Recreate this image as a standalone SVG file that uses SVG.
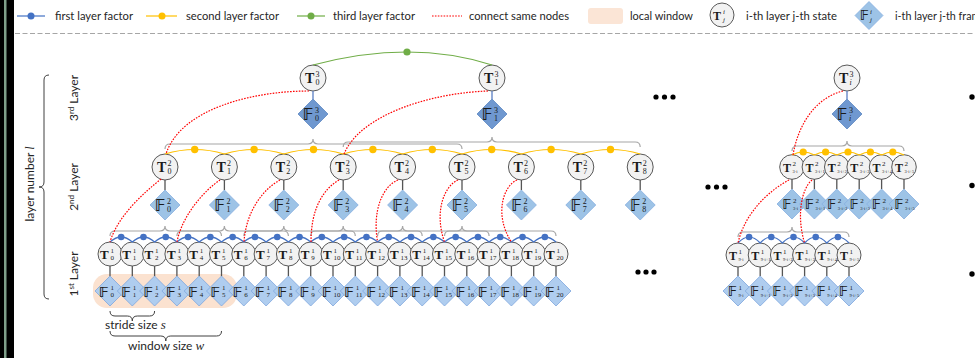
<svg xmlns="http://www.w3.org/2000/svg" xmlns:xlink="http://www.w3.org/1999/xlink" width="975" height="358" viewBox="0 0 975 358">
<style>
.c{fill:#f2f2f2;stroke:#595959;stroke-width:1}
.f1{fill:#afcdef;stroke:#7ea6dd;stroke-width:.8}
.f2{fill:#9dc3e6;stroke:#87afe0;stroke-width:.8}
.f3{fill:#6f98d0;stroke:#5d86c2;stroke-width:.8}
.m{font-family:"Liberation Serif",serif;font-weight:bold;fill:#1a1a1a}
.bb{font-family:"DejaVu Sans",sans-serif;font-weight:bold;font-size:1.12em}
.k{font-family:"Liberation Serif",serif;font-weight:normal}
.i{font-style:italic}
.b14{font-size:14px}.b13{font-size:13px}.b12{font-size:12px}
.s8{font-size:8px}.s7{font-size:7px}.s5{font-size:4.5px}
.lbl{font-family:Lato,"Liberation Sans",sans-serif;font-size:12px;fill:#262626}
.tie{fill:none;stroke:#555;stroke-width:1.3}
.tie3{fill:none;stroke:#5b7fc4;stroke-width:1.3}
.bl{fill:none;stroke:#4472c4;stroke-width:1.2}
.ye{fill:none;stroke:#ffc000;stroke-width:1.2}
.gr{fill:none;stroke:#70ad47;stroke-width:1.2}
.br{fill:none;stroke:#a6a6a6;stroke-width:1.2}
.dk{fill:none;stroke:#404040;stroke-width:1}
.rd{fill:none;stroke:#ff0000;stroke-width:1.2;stroke-dasharray:1.6 1.3}
.dot-b{fill:#4472c4}.dot-y{fill:#ffc000}.dot-g{fill:#70ad47}
</style>
<defs>
<path id="dm" d="M0,-15L15,0L0,15L-15,0Z"/>
</defs>
<rect width="975" height="358" fill="#fff"/>
<!-- left page edge -->
<rect x="0" y="0" width="14" height="358" fill="#000"/>
<rect x="4" y="0" width="2.5" height="358" fill="#7f9f8a"/>
<line x1="15" y1="33.5" x2="975" y2="33.5" stroke="#a6a6a6" stroke-width="1" stroke-dasharray="5 2.5"/>

<!-- legend -->
<g id="legend">
<line x1="17" y1="16" x2="45" y2="16" class="bl"/><circle cx="31" cy="16" r="3.5" class="dot-b"/>
<text x="55" y="20" class="lbl" textLength="78" lengthAdjust="spacingAndGlyphs">first layer factor</text>
<line x1="146" y1="16" x2="177" y2="16" class="ye"/><circle cx="162" cy="16" r="3.5" class="dot-y"/>
<text x="186" y="20" class="lbl" textLength="93" lengthAdjust="spacingAndGlyphs">second layer factor</text>
<line x1="297" y1="16" x2="325" y2="16" class="gr"/><circle cx="311" cy="16" r="3.5" class="dot-g"/>
<text x="333" y="20" class="lbl" textLength="82" lengthAdjust="spacingAndGlyphs">third layer factor</text>
<line x1="432" y1="16" x2="462" y2="16" class="rd"/>
<text x="469" y="20" class="lbl" textLength="100" lengthAdjust="spacingAndGlyphs">connect same nodes</text>
<rect x="588" y="8" width="35" height="16" rx="3" fill="#fbe5d6"/>
<text x="630" y="20" class="lbl" textLength="63" lengthAdjust="spacingAndGlyphs">local window</text>
<g transform="translate(722 15)"><circle class="c" r="12"/><text class="m b12"><tspan x="-9" y="4.5">T</tspan><tspan class="k i s7" x="1" y="-1.5">i</tspan><tspan class="k i s7" x="1" y="6.5">j</tspan></text></g>
<text x="746" y="20" class="lbl" textLength="91" lengthAdjust="spacingAndGlyphs">i-th layer j-th state</text>
<g transform="translate(869 15.5)"><path class="f2" d="M0,-14L14,0L0,14L-14,0Z"/><text class="m b12"><tspan class="bb" x="-9" y="4.5">𝔽</tspan><tspan class="k i s7" x="1" y="-1.5">i</tspan><tspan class="k i s7" x="1" y="6.5">j</tspan></text></g>
<text x="895" y="20" class="lbl" textLength="91" lengthAdjust="spacingAndGlyphs">i-th layer j-th frame</text>
</g>

<!-- axis labels -->
<g id="axis">
<path class="dk" d="M49,75Q44,75 44,80L44,182Q44,187 39,187Q44,187 44,192L44,294Q44,299 49,299"/>
<text class="lbl" text-anchor="middle" transform="translate(34 184) rotate(-90)">layer number <tspan font-family="Liberation Serif, serif" font-style="italic">l</tspan></text>
<text class="lbl" text-anchor="middle" transform="translate(78 98) rotate(-90)">3<tspan font-size="8" dy="-4">rd</tspan><tspan dy="4"> Layer</tspan></text>
<text class="lbl" text-anchor="middle" transform="translate(78 187) rotate(-90)">2<tspan font-size="8" dy="-4">nd</tspan><tspan dy="4"> Layer</tspan></text>
<text class="lbl" text-anchor="middle" transform="translate(78 274) rotate(-90)">1<tspan font-size="8" dy="-4">st</tspan><tspan dy="4"> Layer</tspan></text>
</g>

<!-- local window, stride and window size -->
<g id="window">
<rect x="93" y="274" width="144" height="34" rx="14" fill="#fbe2d0"/>
<path class="dk" d="M110,311Q110,316 115,316L127.3,316Q132.3,316 132.3,321Q132.3,316 137.3,316L149.6,316Q154.6,316 154.6,311"/>
<path class="dk" d="M110,331Q110,336 115,336L160.8,336Q165.8,336 165.8,341Q165.8,336 170.8,336L216.5,336Q221.5,336 221.5,331"/>
<text x="105" y="329" class="lbl">stride size <tspan font-family="Liberation Serif, serif" font-style="italic" font-size="13">s</tspan></text>
<text x="128" y="350" class="lbl">window size <tspan font-family="Liberation Serif, serif" font-style="italic" font-size="13">w</tspan></text>
</g>

<!-- ellipses -->
<g id="more" fill="#000">
<circle cx="656" cy="97" r="2.6"/><circle cx="664.5" cy="97" r="2.6"/><circle cx="673" cy="97" r="2.6"/>
<circle cx="708" cy="187" r="2.6"/><circle cx="716.5" cy="187" r="2.6"/><circle cx="725" cy="187" r="2.6"/>
<circle cx="638" cy="272" r="2.6"/><circle cx="646" cy="272" r="2.6"/><circle cx="654" cy="272" r="2.6"/>
<circle cx="972" cy="97" r="2.7"/><circle cx="972" cy="185.5" r="2.7"/><circle cx="972" cy="274" r="2.7"/>
</g>

<!-- layer 3 -->
<g id="t3-0" transform="translate(313 78)"><circle class="c" r="13"/><text class="m b14"><tspan x="-8" y="5">T</tspan><tspan class="k s8" x="2.5" y="-1">3</tspan><tspan class="k s8" x="2.5" y="7">0</tspan></text></g>
<g id="f3-0" transform="translate(313 114)"><use href="#dm" class="f3"/><text class="m b14"><tspan class="bb" x="-10" y="5.5">𝔽</tspan><tspan class="k s8" x="2" y="-1">3</tspan><tspan class="k s8" x="2" y="7">0</tspan></text></g>
<g id="t3-1" transform="translate(492 78)"><circle class="c" r="13"/><text class="m b14"><tspan x="-8" y="5">T</tspan><tspan class="k s8" x="2.5" y="-1">3</tspan><tspan class="k s8" x="2.5" y="7">1</tspan></text></g>
<g id="f3-1" transform="translate(492 114)"><use href="#dm" class="f3"/><text class="m b14"><tspan class="bb" x="-10" y="5.5">𝔽</tspan><tspan class="k s8" x="2" y="-1">3</tspan><tspan class="k s8" x="2" y="7">1</tspan></text></g>
<g id="t3-i" transform="translate(847 78)"><circle class="c" r="13"/><text class="m b14"><tspan x="-8" y="5">T</tspan><tspan class="k s8" x="2.5" y="-1">3</tspan><tspan class="k i s8" x="2.5" y="7">i</tspan></text></g>
<g id="f3-i" transform="translate(847 114)"><use href="#dm" class="f3"/><text class="m b14"><tspan class="bb" x="-10" y="5.5">𝔽</tspan><tspan class="k s8" x="2" y="-1">3</tspan><tspan class="k i s8" x="2" y="7">i</tspan></text></g>

<!-- layer 2 -->
<g id="t2-0" transform="translate(165 167)"><circle class="c" r="13"/><text class="m b14"><tspan x="-8" y="5">T</tspan><tspan class="k s8" x="2.5" y="-1">2</tspan><tspan class="k s8" x="2.5" y="7">0</tspan></text></g>
<g id="t2-1" transform="translate(224.4 167)"><circle class="c" r="13"/><text class="m b14"><tspan x="-8" y="5">T</tspan><tspan class="k s8" x="2.5" y="-1">2</tspan><tspan class="k s8" x="2.5" y="7">1</tspan></text></g>
<g id="t2-2" transform="translate(283.8 167)"><circle class="c" r="13"/><text class="m b14"><tspan x="-8" y="5">T</tspan><tspan class="k s8" x="2.5" y="-1">2</tspan><tspan class="k s8" x="2.5" y="7">2</tspan></text></g>
<g id="t2-3" transform="translate(343.2 167)"><circle class="c" r="13"/><text class="m b14"><tspan x="-8" y="5">T</tspan><tspan class="k s8" x="2.5" y="-1">2</tspan><tspan class="k s8" x="2.5" y="7">3</tspan></text></g>
<g id="t2-4" transform="translate(402.6 167)"><circle class="c" r="13"/><text class="m b14"><tspan x="-8" y="5">T</tspan><tspan class="k s8" x="2.5" y="-1">2</tspan><tspan class="k s8" x="2.5" y="7">4</tspan></text></g>
<g id="t2-5" transform="translate(462 167)"><circle class="c" r="13"/><text class="m b14"><tspan x="-8" y="5">T</tspan><tspan class="k s8" x="2.5" y="-1">2</tspan><tspan class="k s8" x="2.5" y="7">5</tspan></text></g>
<g id="t2-6" transform="translate(521.4 167)"><circle class="c" r="13"/><text class="m b14"><tspan x="-8" y="5">T</tspan><tspan class="k s8" x="2.5" y="-1">2</tspan><tspan class="k s8" x="2.5" y="7">6</tspan></text></g>
<g id="t2-7" transform="translate(580.8 167)"><circle class="c" r="13"/><text class="m b14"><tspan x="-8" y="5">T</tspan><tspan class="k s8" x="2.5" y="-1">2</tspan><tspan class="k s8" x="2.5" y="7">7</tspan></text></g>
<g id="t2-8" transform="translate(640.2 167)"><circle class="c" r="13"/><text class="m b14"><tspan x="-8" y="5">T</tspan><tspan class="k s8" x="2.5" y="-1">2</tspan><tspan class="k s8" x="2.5" y="7">8</tspan></text></g>
<g id="f2-0" transform="translate(165 205)"><use href="#dm" class="f2"/><text class="m b14"><tspan class="bb" x="-10" y="5.5">𝔽</tspan><tspan class="k s8" x="2" y="-1">2</tspan><tspan class="k s8" x="2" y="7">0</tspan></text></g>
<g id="f2-1" transform="translate(224.4 205)"><use href="#dm" class="f2"/><text class="m b14"><tspan class="bb" x="-10" y="5.5">𝔽</tspan><tspan class="k s8" x="2" y="-1">2</tspan><tspan class="k s8" x="2" y="7">1</tspan></text></g>
<g id="f2-2" transform="translate(283.8 205)"><use href="#dm" class="f2"/><text class="m b14"><tspan class="bb" x="-10" y="5.5">𝔽</tspan><tspan class="k s8" x="2" y="-1">2</tspan><tspan class="k s8" x="2" y="7">2</tspan></text></g>
<g id="f2-3" transform="translate(343.2 205)"><use href="#dm" class="f2"/><text class="m b14"><tspan class="bb" x="-10" y="5.5">𝔽</tspan><tspan class="k s8" x="2" y="-1">2</tspan><tspan class="k s8" x="2" y="7">3</tspan></text></g>
<g id="f2-4" transform="translate(402.6 205)"><use href="#dm" class="f2"/><text class="m b14"><tspan class="bb" x="-10" y="5.5">𝔽</tspan><tspan class="k s8" x="2" y="-1">2</tspan><tspan class="k s8" x="2" y="7">4</tspan></text></g>
<g id="f2-5" transform="translate(462 205)"><use href="#dm" class="f2"/><text class="m b14"><tspan class="bb" x="-10" y="5.5">𝔽</tspan><tspan class="k s8" x="2" y="-1">2</tspan><tspan class="k s8" x="2" y="7">5</tspan></text></g>
<g id="f2-6" transform="translate(521.4 205)"><use href="#dm" class="f2"/><text class="m b14"><tspan class="bb" x="-10" y="5.5">𝔽</tspan><tspan class="k s8" x="2" y="-1">2</tspan><tspan class="k s8" x="2" y="7">6</tspan></text></g>
<g id="f2-7" transform="translate(580.8 205)"><use href="#dm" class="f2"/><text class="m b14"><tspan class="bb" x="-10" y="5.5">𝔽</tspan><tspan class="k s8" x="2" y="-1">2</tspan><tspan class="k s8" x="2" y="7">7</tspan></text></g>
<g id="f2-8" transform="translate(640.2 205)"><use href="#dm" class="f2"/><text class="m b14"><tspan class="bb" x="-10" y="5.5">𝔽</tspan><tspan class="k s8" x="2" y="-1">2</tspan><tspan class="k s8" x="2" y="7">8</tspan></text></g>

<!-- layer 2, i-th block -->
<g id="t2-3i" transform="translate(792 167)"><circle class="c" r="12.3"/><text class="m b12"><tspan x="-9" y="4.5">T</tspan><tspan class="k s7" x="0.5" y="-1.5">2</tspan><tspan class="k s5" x="0.5" y="5.5">3·i</tspan></text></g>
<g id="t2-3i1" transform="translate(814.4 167)"><circle class="c" r="12.3"/><text class="m b12"><tspan x="-9" y="4.5">T</tspan><tspan class="k s7" x="0.5" y="-1.5">2</tspan><tspan class="k s5" x="0.5" y="5.5">3·i+1</tspan></text></g>
<g id="t2-3i2" transform="translate(836.8 167)"><circle class="c" r="12.3"/><text class="m b12"><tspan x="-9" y="4.5">T</tspan><tspan class="k s7" x="0.5" y="-1.5">2</tspan><tspan class="k s5" x="0.5" y="5.5">3·i+2</tspan></text></g>
<g id="t2-3i3" transform="translate(859.2 167)"><circle class="c" r="12.3"/><text class="m b12"><tspan x="-9" y="4.5">T</tspan><tspan class="k s7" x="0.5" y="-1.5">2</tspan><tspan class="k s5" x="0.5" y="5.5">3·i+3</tspan></text></g>
<g id="t2-3i4" transform="translate(881.6 167)"><circle class="c" r="12.3"/><text class="m b12"><tspan x="-9" y="4.5">T</tspan><tspan class="k s7" x="0.5" y="-1.5">2</tspan><tspan class="k s5" x="0.5" y="5.5">3·i+4</tspan></text></g>
<g id="t2-3i5" transform="translate(904 167)"><circle class="c" r="12.3"/><text class="m b12"><tspan x="-9" y="4.5">T</tspan><tspan class="k s7" x="0.5" y="-1.5">2</tspan><tspan class="k s5" x="0.5" y="5.5">3·i+5</tspan></text></g>
<g id="f2-3i" transform="translate(792 204)"><use href="#dm" class="f2"/><text class="m b12"><tspan class="bb" x="-9.5" y="5">𝔽</tspan><tspan class="k s7" x="1" y="-1.5">2</tspan><tspan class="k s5" x="1" y="5.5">3·i</tspan></text></g>
<g id="f2-3i1" transform="translate(814.4 204)"><use href="#dm" class="f2"/><text class="m b12"><tspan class="bb" x="-9.5" y="5">𝔽</tspan><tspan class="k s7" x="1" y="-1.5">2</tspan><tspan class="k s5" x="1" y="5.5">3·i+1</tspan></text></g>
<g id="f2-3i2" transform="translate(836.8 204)"><use href="#dm" class="f2"/><text class="m b12"><tspan class="bb" x="-9.5" y="5">𝔽</tspan><tspan class="k s7" x="1" y="-1.5">2</tspan><tspan class="k s5" x="1" y="5.5">3·i+2</tspan></text></g>
<g id="f2-3i3" transform="translate(859.2 204)"><use href="#dm" class="f2"/><text class="m b12"><tspan class="bb" x="-9.5" y="5">𝔽</tspan><tspan class="k s7" x="1" y="-1.5">2</tspan><tspan class="k s5" x="1" y="5.5">3·i+3</tspan></text></g>
<g id="f2-3i4" transform="translate(881.6 204)"><use href="#dm" class="f2"/><text class="m b12"><tspan class="bb" x="-9.5" y="5">𝔽</tspan><tspan class="k s7" x="1" y="-1.5">2</tspan><tspan class="k s5" x="1" y="5.5">3·i+4</tspan></text></g>
<g id="f2-3i5" transform="translate(904 204)"><use href="#dm" class="f2"/><text class="m b12"><tspan class="bb" x="-9.5" y="5">𝔽</tspan><tspan class="k s7" x="1" y="-1.5">2</tspan><tspan class="k s5" x="1" y="5.5">3·i+5</tspan></text></g>

<!-- layer 1 -->
<g id="t1-0" transform="translate(110 254)"><circle class="c" r="12"/><text class="m b13"><tspan x="-10" y="5">T</tspan><tspan class="k s7" x="0.5" y="-1.5">1</tspan><tspan class="k s7" x="0.5" y="6">0</tspan></text></g>
<g id="t1-1" transform="translate(132.3 254)"><circle class="c" r="12"/><text class="m b13"><tspan x="-10" y="5">T</tspan><tspan class="k s7" x="0.5" y="-1.5">1</tspan><tspan class="k s7" x="0.5" y="6">1</tspan></text></g>
<g id="t1-2" transform="translate(154.6 254)"><circle class="c" r="12"/><text class="m b13"><tspan x="-10" y="5">T</tspan><tspan class="k s7" x="0.5" y="-1.5">1</tspan><tspan class="k s7" x="0.5" y="6">2</tspan></text></g>
<g id="t1-3" transform="translate(176.9 254)"><circle class="c" r="12"/><text class="m b13"><tspan x="-10" y="5">T</tspan><tspan class="k s7" x="0.5" y="-1.5">1</tspan><tspan class="k s7" x="0.5" y="6">3</tspan></text></g>
<g id="t1-4" transform="translate(199.2 254)"><circle class="c" r="12"/><text class="m b13"><tspan x="-10" y="5">T</tspan><tspan class="k s7" x="0.5" y="-1.5">1</tspan><tspan class="k s7" x="0.5" y="6">4</tspan></text></g>
<g id="t1-5" transform="translate(221.5 254)"><circle class="c" r="12"/><text class="m b13"><tspan x="-10" y="5">T</tspan><tspan class="k s7" x="0.5" y="-1.5">1</tspan><tspan class="k s7" x="0.5" y="6">5</tspan></text></g>
<g id="t1-6" transform="translate(243.8 254)"><circle class="c" r="12"/><text class="m b13"><tspan x="-10" y="5">T</tspan><tspan class="k s7" x="0.5" y="-1.5">1</tspan><tspan class="k s7" x="0.5" y="6">6</tspan></text></g>
<g id="t1-7" transform="translate(266.1 254)"><circle class="c" r="12"/><text class="m b13"><tspan x="-10" y="5">T</tspan><tspan class="k s7" x="0.5" y="-1.5">1</tspan><tspan class="k s7" x="0.5" y="6">7</tspan></text></g>
<g id="t1-8" transform="translate(288.4 254)"><circle class="c" r="12"/><text class="m b13"><tspan x="-10" y="5">T</tspan><tspan class="k s7" x="0.5" y="-1.5">1</tspan><tspan class="k s7" x="0.5" y="6">8</tspan></text></g>
<g id="t1-9" transform="translate(310.7 254)"><circle class="c" r="12"/><text class="m b13"><tspan x="-10" y="5">T</tspan><tspan class="k s7" x="0.5" y="-1.5">1</tspan><tspan class="k s7" x="0.5" y="6">9</tspan></text></g>
<g id="t1-10" transform="translate(333 254)"><circle class="c" r="12"/><text class="m b13"><tspan x="-10" y="5">T</tspan><tspan class="k s7" x="0.5" y="-1.5">1</tspan><tspan class="k s7" x="0.5" y="6">10</tspan></text></g>
<g id="t1-11" transform="translate(355.3 254)"><circle class="c" r="12"/><text class="m b13"><tspan x="-10" y="5">T</tspan><tspan class="k s7" x="0.5" y="-1.5">1</tspan><tspan class="k s7" x="0.5" y="6">11</tspan></text></g>
<g id="t1-12" transform="translate(377.6 254)"><circle class="c" r="12"/><text class="m b13"><tspan x="-10" y="5">T</tspan><tspan class="k s7" x="0.5" y="-1.5">1</tspan><tspan class="k s7" x="0.5" y="6">12</tspan></text></g>
<g id="t1-13" transform="translate(399.9 254)"><circle class="c" r="12"/><text class="m b13"><tspan x="-10" y="5">T</tspan><tspan class="k s7" x="0.5" y="-1.5">1</tspan><tspan class="k s7" x="0.5" y="6">13</tspan></text></g>
<g id="t1-14" transform="translate(422.2 254)"><circle class="c" r="12"/><text class="m b13"><tspan x="-10" y="5">T</tspan><tspan class="k s7" x="0.5" y="-1.5">1</tspan><tspan class="k s7" x="0.5" y="6">14</tspan></text></g>
<g id="t1-15" transform="translate(444.5 254)"><circle class="c" r="12"/><text class="m b13"><tspan x="-10" y="5">T</tspan><tspan class="k s7" x="0.5" y="-1.5">1</tspan><tspan class="k s7" x="0.5" y="6">15</tspan></text></g>
<g id="t1-16" transform="translate(466.8 254)"><circle class="c" r="12"/><text class="m b13"><tspan x="-10" y="5">T</tspan><tspan class="k s7" x="0.5" y="-1.5">1</tspan><tspan class="k s7" x="0.5" y="6">16</tspan></text></g>
<g id="t1-17" transform="translate(489.1 254)"><circle class="c" r="12"/><text class="m b13"><tspan x="-10" y="5">T</tspan><tspan class="k s7" x="0.5" y="-1.5">1</tspan><tspan class="k s7" x="0.5" y="6">17</tspan></text></g>
<g id="t1-18" transform="translate(511.4 254)"><circle class="c" r="12"/><text class="m b13"><tspan x="-10" y="5">T</tspan><tspan class="k s7" x="0.5" y="-1.5">1</tspan><tspan class="k s7" x="0.5" y="6">18</tspan></text></g>
<g id="t1-19" transform="translate(533.7 254)"><circle class="c" r="12"/><text class="m b13"><tspan x="-10" y="5">T</tspan><tspan class="k s7" x="0.5" y="-1.5">1</tspan><tspan class="k s7" x="0.5" y="6">19</tspan></text></g>
<g id="t1-20" transform="translate(556 254)"><circle class="c" r="12"/><text class="m b13"><tspan x="-10" y="5">T</tspan><tspan class="k s7" x="0.5" y="-1.5">1</tspan><tspan class="k s7" x="0.5" y="6">20</tspan></text></g>

<g id="f1-0" transform="translate(110 291)"><use href="#dm" class="f1"/><text class="m b13"><tspan class="bb" x="-11" y="5.5">𝔽</tspan><tspan class="k s7" x="0.5" y="-1.5">1</tspan><tspan class="k s7" x="0.5" y="6">0</tspan></text></g>
<g id="f1-1" transform="translate(132.3 291)"><use href="#dm" class="f1"/><text class="m b13"><tspan class="bb" x="-11" y="5.5">𝔽</tspan><tspan class="k s7" x="0.5" y="-1.5">1</tspan><tspan class="k s7" x="0.5" y="6">1</tspan></text></g>
<g id="f1-2" transform="translate(154.6 291)"><use href="#dm" class="f1"/><text class="m b13"><tspan class="bb" x="-11" y="5.5">𝔽</tspan><tspan class="k s7" x="0.5" y="-1.5">1</tspan><tspan class="k s7" x="0.5" y="6">2</tspan></text></g>
<g id="f1-3" transform="translate(176.9 291)"><use href="#dm" class="f1"/><text class="m b13"><tspan class="bb" x="-11" y="5.5">𝔽</tspan><tspan class="k s7" x="0.5" y="-1.5">1</tspan><tspan class="k s7" x="0.5" y="6">3</tspan></text></g>
<g id="f1-4" transform="translate(199.2 291)"><use href="#dm" class="f1"/><text class="m b13"><tspan class="bb" x="-11" y="5.5">𝔽</tspan><tspan class="k s7" x="0.5" y="-1.5">1</tspan><tspan class="k s7" x="0.5" y="6">4</tspan></text></g>
<g id="f1-5" transform="translate(221.5 291)"><use href="#dm" class="f1"/><text class="m b13"><tspan class="bb" x="-11" y="5.5">𝔽</tspan><tspan class="k s7" x="0.5" y="-1.5">1</tspan><tspan class="k s7" x="0.5" y="6">5</tspan></text></g>
<g id="f1-6" transform="translate(243.8 291)"><use href="#dm" class="f1"/><text class="m b13"><tspan class="bb" x="-11" y="5.5">𝔽</tspan><tspan class="k s7" x="0.5" y="-1.5">1</tspan><tspan class="k s7" x="0.5" y="6">6</tspan></text></g>
<g id="f1-7" transform="translate(266.1 291)"><use href="#dm" class="f1"/><text class="m b13"><tspan class="bb" x="-11" y="5.5">𝔽</tspan><tspan class="k s7" x="0.5" y="-1.5">1</tspan><tspan class="k s7" x="0.5" y="6">7</tspan></text></g>
<g id="f1-8" transform="translate(288.4 291)"><use href="#dm" class="f1"/><text class="m b13"><tspan class="bb" x="-11" y="5.5">𝔽</tspan><tspan class="k s7" x="0.5" y="-1.5">1</tspan><tspan class="k s7" x="0.5" y="6">8</tspan></text></g>
<g id="f1-9" transform="translate(310.7 291)"><use href="#dm" class="f1"/><text class="m b13"><tspan class="bb" x="-11" y="5.5">𝔽</tspan><tspan class="k s7" x="0.5" y="-1.5">1</tspan><tspan class="k s7" x="0.5" y="6">9</tspan></text></g>
<g id="f1-10" transform="translate(333 291)"><use href="#dm" class="f1"/><text class="m b13"><tspan class="bb" x="-11" y="5.5">𝔽</tspan><tspan class="k s7" x="0.5" y="-1.5">1</tspan><tspan class="k s7" x="0.5" y="6">10</tspan></text></g>
<g id="f1-11" transform="translate(355.3 291)"><use href="#dm" class="f1"/><text class="m b13"><tspan class="bb" x="-11" y="5.5">𝔽</tspan><tspan class="k s7" x="0.5" y="-1.5">1</tspan><tspan class="k s7" x="0.5" y="6">11</tspan></text></g>
<g id="f1-12" transform="translate(377.6 291)"><use href="#dm" class="f1"/><text class="m b13"><tspan class="bb" x="-11" y="5.5">𝔽</tspan><tspan class="k s7" x="0.5" y="-1.5">1</tspan><tspan class="k s7" x="0.5" y="6">12</tspan></text></g>
<g id="f1-13" transform="translate(399.9 291)"><use href="#dm" class="f1"/><text class="m b13"><tspan class="bb" x="-11" y="5.5">𝔽</tspan><tspan class="k s7" x="0.5" y="-1.5">1</tspan><tspan class="k s7" x="0.5" y="6">13</tspan></text></g>
<g id="f1-14" transform="translate(422.2 291)"><use href="#dm" class="f1"/><text class="m b13"><tspan class="bb" x="-11" y="5.5">𝔽</tspan><tspan class="k s7" x="0.5" y="-1.5">1</tspan><tspan class="k s7" x="0.5" y="6">14</tspan></text></g>
<g id="f1-15" transform="translate(444.5 291)"><use href="#dm" class="f1"/><text class="m b13"><tspan class="bb" x="-11" y="5.5">𝔽</tspan><tspan class="k s7" x="0.5" y="-1.5">1</tspan><tspan class="k s7" x="0.5" y="6">15</tspan></text></g>
<g id="f1-16" transform="translate(466.8 291)"><use href="#dm" class="f1"/><text class="m b13"><tspan class="bb" x="-11" y="5.5">𝔽</tspan><tspan class="k s7" x="0.5" y="-1.5">1</tspan><tspan class="k s7" x="0.5" y="6">16</tspan></text></g>
<g id="f1-17" transform="translate(489.1 291)"><use href="#dm" class="f1"/><text class="m b13"><tspan class="bb" x="-11" y="5.5">𝔽</tspan><tspan class="k s7" x="0.5" y="-1.5">1</tspan><tspan class="k s7" x="0.5" y="6">17</tspan></text></g>
<g id="f1-18" transform="translate(511.4 291)"><use href="#dm" class="f1"/><text class="m b13"><tspan class="bb" x="-11" y="5.5">𝔽</tspan><tspan class="k s7" x="0.5" y="-1.5">1</tspan><tspan class="k s7" x="0.5" y="6">18</tspan></text></g>
<g id="f1-19" transform="translate(533.7 291)"><use href="#dm" class="f1"/><text class="m b13"><tspan class="bb" x="-11" y="5.5">𝔽</tspan><tspan class="k s7" x="0.5" y="-1.5">1</tspan><tspan class="k s7" x="0.5" y="6">19</tspan></text></g>
<g id="f1-20" transform="translate(556 291)"><use href="#dm" class="f1"/><text class="m b13"><tspan class="bb" x="-11" y="5.5">𝔽</tspan><tspan class="k s7" x="0.5" y="-1.5">1</tspan><tspan class="k s7" x="0.5" y="6">20</tspan></text></g>

<!-- layer 1, i-th block -->
<g id="t1-9i" transform="translate(738 255)"><circle class="c" r="12"/><text class="m b12"><tspan x="-9" y="4.5">T</tspan><tspan class="k s7" x="0.5" y="-1.5">1</tspan><tspan class="k s5" x="0.5" y="5.5">9·i</tspan></text></g>
<g id="t1-9i1" transform="translate(760.2 255)"><circle class="c" r="12"/><text class="m b12"><tspan x="-9" y="4.5">T</tspan><tspan class="k s7" x="0.5" y="-1.5">1</tspan><tspan class="k s5" x="0.5" y="5.5">9·i+1</tspan></text></g>
<g id="t1-9i2" transform="translate(782.4 255)"><circle class="c" r="12"/><text class="m b12"><tspan x="-9" y="4.5">T</tspan><tspan class="k s7" x="0.5" y="-1.5">1</tspan><tspan class="k s5" x="0.5" y="5.5">9·i+2</tspan></text></g>
<g id="t1-9i3" transform="translate(804.6 255)"><circle class="c" r="12"/><text class="m b12"><tspan x="-9" y="4.5">T</tspan><tspan class="k s7" x="0.5" y="-1.5">1</tspan><tspan class="k s5" x="0.5" y="5.5">9·i+3</tspan></text></g>
<g id="t1-9i4" transform="translate(826.8 255)"><circle class="c" r="12"/><text class="m b12"><tspan x="-9" y="4.5">T</tspan><tspan class="k s7" x="0.5" y="-1.5">1</tspan><tspan class="k s5" x="0.5" y="5.5">9·i+4</tspan></text></g>
<g id="t1-9i5" transform="translate(849 255)"><circle class="c" r="12"/><text class="m b12"><tspan x="-9" y="4.5">T</tspan><tspan class="k s7" x="0.5" y="-1.5">1</tspan><tspan class="k s5" x="0.5" y="5.5">9·i+5</tspan></text></g>
<g id="f1-9i" transform="translate(738 291)"><use href="#dm" class="f1"/><text class="m b12"><tspan class="bb" x="-10" y="5">𝔽</tspan><tspan class="k s7" x="0.5" y="-1.5">1</tspan><tspan class="k s5" x="0.5" y="5.5">9·i</tspan></text></g>
<g id="f1-9i1" transform="translate(760.2 291)"><use href="#dm" class="f1"/><text class="m b12"><tspan class="bb" x="-10" y="5">𝔽</tspan><tspan class="k s7" x="0.5" y="-1.5">1</tspan><tspan class="k s5" x="0.5" y="5.5">9·i+1</tspan></text></g>
<g id="f1-9i2" transform="translate(782.4 291)"><use href="#dm" class="f1"/><text class="m b12"><tspan class="bb" x="-10" y="5">𝔽</tspan><tspan class="k s7" x="0.5" y="-1.5">1</tspan><tspan class="k s5" x="0.5" y="5.5">9·i+2</tspan></text></g>
<g id="f1-9i3" transform="translate(804.6 291)"><use href="#dm" class="f1"/><text class="m b12"><tspan class="bb" x="-10" y="5">𝔽</tspan><tspan class="k s7" x="0.5" y="-1.5">1</tspan><tspan class="k s5" x="0.5" y="5.5">9·i+3</tspan></text></g>
<g id="f1-9i4" transform="translate(826.8 291)"><use href="#dm" class="f1"/><text class="m b12"><tspan class="bb" x="-10" y="5">𝔽</tspan><tspan class="k s7" x="0.5" y="-1.5">1</tspan><tspan class="k s5" x="0.5" y="5.5">9·i+4</tspan></text></g>
<g id="f1-9i5" transform="translate(849 291)"><use href="#dm" class="f1"/><text class="m b12"><tspan class="bb" x="-10" y="5">𝔽</tspan><tspan class="k s7" x="0.5" y="-1.5">1</tspan><tspan class="k s5" x="0.5" y="5.5">9·i+5</tspan></text></g>

<!-- connectors -->
<g id="connectors">
<!-- state to frame ties -->
<path class="tie3" d="M313,91V99M492,91V99M847,91V99"/>
<path class="tie" d="M165,180V190M224.4,180V190M283.8,180V190M343.2,180V190M402.6,180V190M462,180V190M521.4,180V190M580.8,180V190M640.2,180V190M792,179V189M814.4,179V189M836.8,179V189M859.2,179V189M881.6,179V189M904,179V189"/>
<path class="tie" d="M110,266V276M132.3,266V276M154.6,266V276M176.9,266V276M199.2,266V276M221.5,266V276M243.8,266V276M266.1,266V276M288.4,266V276M310.7,266V276M333,266V276M355.3,266V276M377.6,266V276M399.9,266V276M422.2,266V276M444.5,266V276M466.8,266V276M489.1,266V276M511.4,266V276M533.7,266V276M556,266V276M738,267V276M760.2,267V276M782.4,267V276M804.6,267V276M826.8,267V276M849,267V276"/>
<!-- windows -->
<path class="br" d="M165,149Q165,144 170,144H308Q313,144 313,139Q313,144 318,144H457Q462,144 462,149"/>
<path class="br" d="M343.2,147Q343.2,142 348.2,142H487Q492,142 492,137Q492,142 497,142H635.2Q640.2,142 640.2,147"/>
<path class="br" d="M792,151Q792,146 797,146H842Q847,146 847,141Q847,146 852,146H899Q904,146 904,151"/>
<path class="br" d="M110,236Q110,231 115,231H160Q165,231 165,226Q165,231 170,231H216.5Q221.5,231 221.5,236"/>
<path class="br" d="M176.9,236Q176.9,231 181.9,231H219.4Q224.4,231 224.4,226Q224.4,231 229.4,231H283.4Q288.4,231 288.4,236"/>
<path class="br" d="M243.8,236Q243.8,231 248.8,231H278.8Q283.8,231 283.8,226Q283.8,231 288.8,231H350.3Q355.3,231 355.3,236"/>
<path class="br" d="M310.7,236Q310.7,231 315.7,231H338.2Q343.2,231 343.2,226Q343.2,231 348.2,231H417.2Q422.2,231 422.2,236"/>
<path class="br" d="M377.6,236Q377.6,231 382.6,231H397.6Q402.6,231 402.6,226Q402.6,231 407.6,231H484.1Q489.1,231 489.1,236"/>
<path class="br" d="M444.5,236Q444.5,231 449.5,231H457Q462,231 462,226Q462,231 467,231H551Q556,231 556,236"/>
<path class="br" d="M738,237Q738,232 743,232H787Q792,232 792,227Q792,232 797,232H844Q849,232 849,237"/>
<!-- third layer factor -->
<path class="gr" d="M313,65Q411,39 492,65"/>
<circle cx="407" cy="52" r="3.6" class="dot-g"/>
<!-- second layer factors -->
<path class="ye" d="M165,154Q194.7,145 224.4,154Q254.1,145 283.8,154Q313.5,145 343.2,154Q372.9,145 402.6,154Q432.3,145 462,154Q491.7,145 521.4,154Q551.1,145 580.8,154Q610.5,145 640.2,154"/>
<g class="dot-y">
<circle cx="194.7" cy="149.5" r="3.7"/><circle cx="254.1" cy="149.5" r="3.7"/><circle cx="313.5" cy="149.5" r="3.7"/><circle cx="372.9" cy="149.5" r="3.7"/><circle cx="432.3" cy="149.5" r="3.7"/><circle cx="491.7" cy="149.5" r="3.7"/><circle cx="551.1" cy="149.5" r="3.7"/><circle cx="610.5" cy="149.5" r="3.7"/>
</g>
<path class="ye" d="M792,155Q803.2,149 814.4,155Q825.6,149 836.8,155Q848,149 859.2,155Q870.4,149 881.6,155Q892.8,149 904,155"/>
<g class="dot-y">
<circle cx="803.2" cy="152" r="3.6"/><circle cx="825.6" cy="152" r="3.6"/><circle cx="848" cy="152" r="3.6"/><circle cx="870.4" cy="152" r="3.6"/><circle cx="892.8" cy="152" r="3.6"/>
</g>
<!-- first layer factors -->
<path class="bl" d="M110,242Q121.15,232 132.3,242Q143.45,232 154.6,242Q165.75,232 176.9,242Q188.05,232 199.2,242Q210.35,232 221.5,242Q232.65,232 243.8,242Q254.95,232 266.1,242Q277.25,232 288.4,242Q299.55,232 310.7,242Q321.85,232 333,242Q344.15,232 355.3,242Q366.45,232 377.6,242Q388.75,232 399.9,242Q411.05,232 422.2,242Q433.35,232 444.5,242Q455.65,232 466.8,242Q477.95,232 489.1,242Q500.25,232 511.4,242Q522.55,232 533.7,242Q544.85,232 556,242"/>
<g class="dot-b">
<circle cx="121.15" cy="237" r="3.3"/><circle cx="143.45" cy="237" r="3.3"/><circle cx="165.75" cy="237" r="3.3"/><circle cx="188.05" cy="237" r="3.3"/><circle cx="210.35" cy="237" r="3.3"/><circle cx="232.65" cy="237" r="3.3"/><circle cx="254.95" cy="237" r="3.3"/><circle cx="277.25" cy="237" r="3.3"/><circle cx="299.55" cy="237" r="3.3"/><circle cx="321.85" cy="237" r="3.3"/><circle cx="344.15" cy="237" r="3.3"/><circle cx="366.45" cy="237" r="3.3"/><circle cx="388.75" cy="237" r="3.3"/><circle cx="411.05" cy="237" r="3.3"/><circle cx="433.35" cy="237" r="3.3"/><circle cx="455.65" cy="237" r="3.3"/><circle cx="477.95" cy="237" r="3.3"/><circle cx="500.25" cy="237" r="3.3"/><circle cx="522.55" cy="237" r="3.3"/><circle cx="544.85" cy="237" r="3.3"/>
</g>
<path class="bl" d="M738,243Q749.1,231 760.2,243Q771.3,231 782.4,243Q793.5,231 804.6,243Q815.7,231 826.8,243Q837.9,231 849,243"/>
<g class="dot-b">
<circle cx="749.1" cy="237" r="3.3"/><circle cx="771.3" cy="237" r="3.3"/><circle cx="793.5" cy="237" r="3.3"/><circle cx="815.7" cy="237" r="3.3"/><circle cx="837.9" cy="237" r="3.3"/>
</g>
<!-- same-node links between layers -->
<path class="rd" d="M309,91C250,91 180,110 166,154"/>
<path class="rd" d="M488,91C430,93 360,115 344,154"/>
<path class="rd" d="M843,91C815,98 798,125 793,155"/>
<path class="rd" d="M161,179C145,192 118,215 110,242"/>
<path class="rd" d="M220,180C205,190 182,215 177,242"/>
<path class="rd" d="M280,180C262,190 246,212 244,242"/>
<path class="rd" d="M339,180C322,190 311,210 311,242"/>
<path class="rd" d="M398,180C383,186 372,210 377.6,242"/>
<path class="rd" d="M458,180C444,186 434,212 444.5,242"/>
<path class="rd" d="M517,180C503,186 494,215 511.4,242"/>
<path class="rd" d="M789,180C770,190 745,212 738,243"/>
<path class="rd" d="M812,180C802,188 796,215 804.6,243"/>
</g>
</svg>
